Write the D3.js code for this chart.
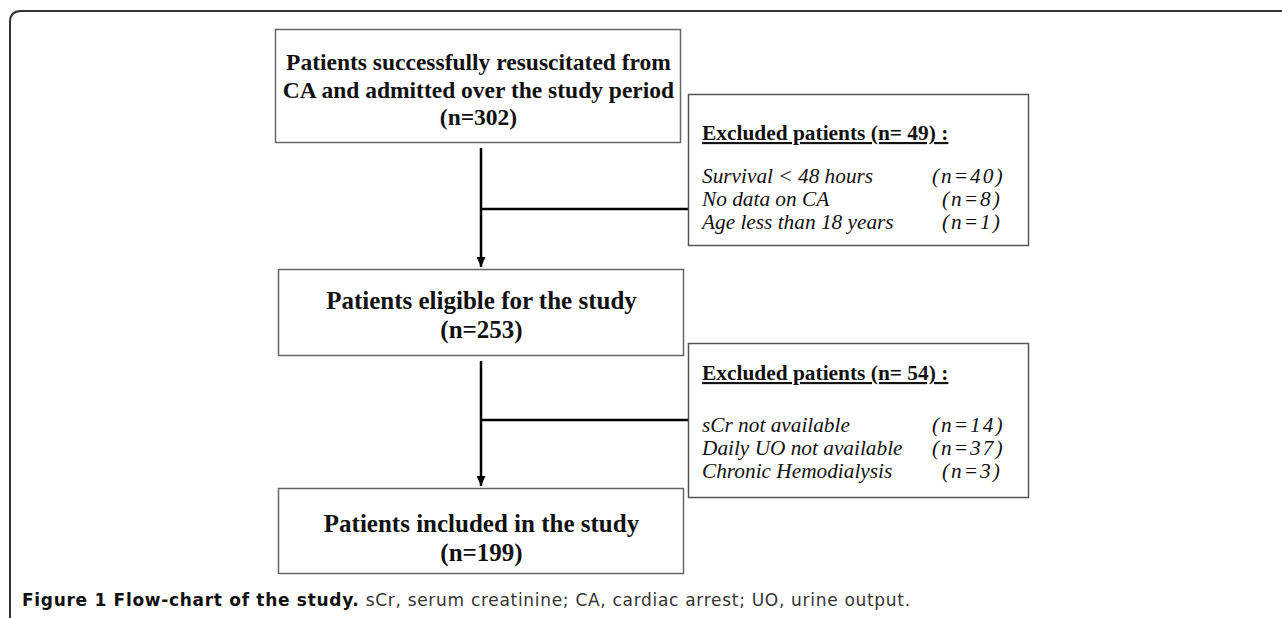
<!DOCTYPE html>
<html>
<head>
<meta charset="utf-8">
<script src="https://cdn.jsdelivr.net/npm/d3@7"></script>
<style>
  body { margin: 0; background: #fff; }
  svg { display: block; }
</style>
</head>
<body>
<div id="flow"></div>
<script>
var width = 1282
var height = 618

// stages of the flow
var stageLabels = [
    ["Patients successfully resuscitated from", "CA and admitted over the study period"],
    ["Patients eligible for the study"],
    ["Patients included in the study"]
];
var stageCounts = [302, 253, 199];

// exclusions between stages
var excludedTotals = [49, 54];
var excludedReasons = [
    ["Survival < 48 hours", "No data on CA", "Age less than 18 years"],
    ["sCr not available", "Daily UO not available", "Chronic Hemodialysis"]
];
var excludedCounts = [
    [40, 8, 1],
    [14, 37, 3]
];

var captionBold = "Figure 1 Flow-chart of the study.";
var captionText = " sCr, serum creatinine; CA, cardiac arrest; UO, urine output.";

var serif = "'Liberation Serif', 'Times New Roman', serif";

var svg = d3.select('#flow')
    .append("svg")
    .attr('width', width)
    .attr('height', height);

svg.append("defs").append("marker")
    .attr("id", "arrow")
    .attr("viewBox", "0 0 10 10")
    .attr("refX", 10).attr("refY", 5)
    .attr("markerUnits", "userSpaceOnUse")
    .attr("markerWidth", 10).attr("markerHeight", 9)
    .attr("orient", "auto")
    .attr("preserveAspectRatio", "none")
    .append("path")
    .attr("d", "M0,0 L10,5 L0,10 Z")
    .attr("fill", "#000");

// outer frame, open at the right
svg.append("path")
    .attr("d", "M10,618 L10,22 Q10,11 21,11 L1282,11")
    .attr("fill", "none")
    .attr("stroke", "#333")
    .attr("stroke-width", 2);

// box geometry for each stage
var stageBoxes = [
    { x: 275, y: 29, w: 405, h: 113, font: 23.5, base: 41, lh: 27.5 },
    { x: 278, y: 269, w: 405, h: 86, font: 25, base: 40, lh: 28.5 },
    { x: 278, y: 488, w: 405, h: 85, font: 25, base: 44, lh: 28.5 }
];
var exclBoxes = [
    { x: 688, y: 94, w: 340, h: 151, join: 209, head: 46 },
    { x: 688, y: 343, w: 340, h: 154, join: 420, head: 37 }
];
var arrowX = 481;

var stages = svg.selectAll(".stage")
    .data(stageLabels)
    .enter().append("g")
    .attr("class", "stage");

stages.append("rect")
    .attr("x", function(d, i) { return stageBoxes[i].x + 0.5; })
    .attr("y", function(d, i) { return stageBoxes[i].y + 0.5; })
    .attr("width", function(d, i) { return stageBoxes[i].w; })
    .attr("height", function(d, i) { return stageBoxes[i].h; })
    .attr("fill", "#fff")
    .attr("stroke", "#666")
    .attr("stroke-width", 1.5);

stages.each(function(d, i) {
    var b = stageBoxes[i];
    var lines = d.concat(["(n=" + stageCounts[i] + ")"]);
    d3.select(this).selectAll("text")
        .data(lines)
        .enter().append("text")
        .attr("x", b.x + b.w / 2 + 1)
        .attr("y", function(t, j) { return b.y + b.base + j * b.lh; })
        .attr("text-anchor", "middle")
        .style("font-family", serif)
        .style("font-weight", "bold")
        .style("font-size", b.font + "px")
        .style("fill", "#111")
        .text(function(t) { return t; });
});

// arrows between stages with the exclusion branch
exclBoxes.forEach(function(b, i) {
    var top = stageBoxes[i].y + stageBoxes[i].h + 6;
    var bottom = stageBoxes[i + 1].y - 2;
    svg.append("line")
        .attr("x1", arrowX).attr("x2", arrowX)
        .attr("y1", top).attr("y2", bottom)
        .attr("stroke", "#000")
        .attr("stroke-width", 2.5)
        .attr("marker-end", "url(#arrow)");
    svg.append("line")
        .attr("x1", arrowX).attr("x2", b.x)
        .attr("y1", b.join).attr("y2", b.join)
        .attr("stroke", "#000")
        .attr("stroke-width", 2.5);

    var g = svg.append("g");
    g.append("rect")
        .attr("x", b.x + 0.5).attr("y", b.y + 0.5)
        .attr("width", b.w).attr("height", b.h)
        .attr("fill", "#fff")
        .attr("stroke", "#555")
        .attr("stroke-width", 1.5);

    g.append("text")
        .attr("x", b.x + 14)
        .attr("y", b.y + b.head)
        .style("font-family", serif)
        .style("font-weight", "bold")
        .style("font-size", "21.4px")
        .style("text-decoration", "underline")
        .style("fill", "#111")
        .text("Excluded patients (n= " + excludedTotals[i] + ") :");

    var y = d3.scaleLinear().domain([0, 1]).range([b.y + 89, b.y + 112]);
    g.selectAll(".reason")
        .data(excludedReasons[i])
        .enter().append("text")
        .attr("class", "reason")
        .attr("x", b.x + 14)
        .attr("y", function(t, j) { return y(j); })
        .style("font-family", serif)
        .style("font-style", "italic")
        .style("font-size", "21.3px")
        .style("fill", "#111")
        .text(function(t) { return t; });
    g.selectAll(".count")
        .data(excludedCounts[i])
        .enter().append("text")
        .attr("class", "count")
        .attr("x", function(c) { return b.x + (c >= 10 ? 244 : 254); })
        .attr("y", function(c, j) { return y(j); })
        .style("font-family", serif)
        .style("font-style", "italic")
        .style("font-size", "21.3px")
        .style("letter-spacing", "2px")
        .style("fill", "#111")
        .text(function(c) { return "(n=" + c + ")"; });
});

// caption
var cap = svg.append("text")
    .attr("x", 22)
    .attr("y", 606)
    .style("font-family", "'DejaVu Sans', sans-serif")
    .style("font-size", "17px")
    .style("letter-spacing", "0.7px")
    .style("fill", "#111");
cap.append("tspan").style("font-weight", "bold").text(captionBold);
cap.append("tspan").style("fill", "#333").text(captionText);
</script>
</body>
</html>
